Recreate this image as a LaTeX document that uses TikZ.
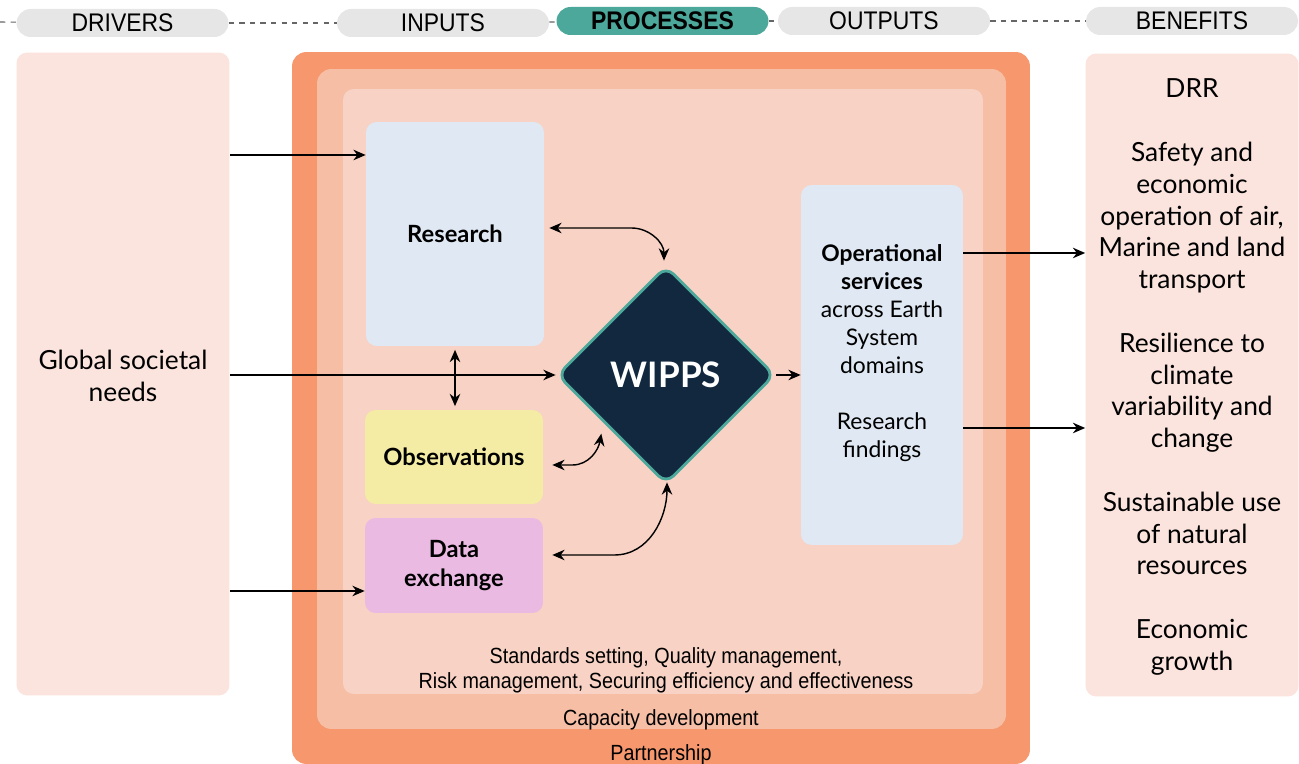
\documentclass[tikz,border=0pt]{standalone}
\usepackage{fontspec}
\setmainfont{Lato}
\newfontfamily\narrowfont[FakeStretch=0.9]{Liberation Sans}
\usetikzlibrary{shapes.geometric, arrows.meta, positioning}

\definecolor{pillgray}{HTML}{E6E6E6}
\definecolor{wippsteal}{HTML}{4BA89B}
\definecolor{wippsnavy}{HTML}{11283F}
\definecolor{outerorange}{HTML}{F6976D}
\definecolor{midorange}{HTML}{F5BEA5}
\definecolor{innerorange}{HTML}{F8D2C4}
\definecolor{sidepink}{HTML}{FBE4DD}
\definecolor{lightblue}{HTML}{DFE8F3}
\definecolor{obsyellow}{HTML}{F4EBA4}
\definecolor{datapink}{HTML}{EBBAE2}

\tikzstyle{pill} = [rectangle, rounded corners=8pt, fill=pillgray, minimum height=0.56cm, minimum width=4.24cm, inner sep=0pt, font=\narrowfont\fontsize{14.5}{16}\selectfont]
\tikzstyle{side} = [rectangle, rounded corners=6pt, fill=sidepink, minimum width=4.26cm, minimum height=12.86cm, inner sep=0pt]
\tikzstyle{frame} = [rectangle, rounded corners=8pt, inner sep=0pt]
\tikzstyle{inbox} = [rectangle, rounded corners=6pt, minimum width=3.56cm, inner sep=0pt, align=center, font=\bfseries\fontsize{13.5}{16.5}\selectfont]
\tikzstyle{note} = [align=center, inner sep=0pt, font=\narrowfont\fontsize{12.5}{14.2}\selectfont]
\tikzstyle{dashline} = [black!60, dashed, line width=0.6pt]
\tikzstyle{arrow} = [line width=0.8pt, -{Stealth[length=7pt,width=6pt]}]
\tikzstyle{biarrow} = [line width=0.8pt, {Stealth[length=7pt,width=6pt]}-{Stealth[length=7pt,width=6pt]}]

\begin{document}
\begin{tikzpicture}[x=0.02cm, y=0.02cm]

            \useasboundingbox (0,0) rectangle (1299,764);

            % header
            \coordinate (lineStart) at (0,742);
            \node (drivers) [pill] at (122.5,741) {DRIVERS};
            \node (inputs) [pill] at (443,741) {INPUTS};
            \node (processes) [pill, fill=wippsteal, font=\narrowfont\bfseries\fontsize{14.5}{16}\selectfont] at (662.5,743) {PROCESSES};
            \node (outputs) [pill] at (884,743) {OUTPUTS};
            \node (benefits) [pill] at (1192,743) {BENEFITS};
            \draw [dashline] (lineStart) -- (drivers);
            \draw [dashline] (drivers) -- (inputs);
            \draw [dashline] (inputs) -- (processes);
            \draw [dashline] (processes) -- (outputs);
            \draw [dashline] (outputs) -- (benefits);

            % columns
            \node (needs) [side, align=center, font=\fontsize{15}{18.1}\selectfont] at (123,390) {};
            \node (needsText) [align=center, font=\fontsize{15}{18.1}\selectfont] at ([shift={(0,-2)}]needs.center) {Global societal\\needs};
            \node (gains) [side] at (1192,389) {};
            \node (gainsText) [align=center, font=\fontsize{15}{18.1}\selectfont] at ([shift={(0,-2)}]gains.center) {DRR\\[\baselineskip]
                Safety and\\economic\\operation of air,\\Marine and land\\transport\\[\baselineskip]
                Resilience to\\climate\\variability and\\change\\[\baselineskip]
                Sustainable use\\of natural\\resources\\[\baselineskip]
                Economic\\growth};

            % nested frames
            \node (partnership) [frame, fill=outerorange, minimum width=14.76cm, minimum height=14.24cm] at (661,356) {};
            \node (capacity) [frame, fill=midorange, minimum width=13.78cm, minimum height=13.2cm] at (661.5,365) {};
            \node (standards) [frame, fill=innerorange, rounded corners=6pt, minimum width=12.8cm, minimum height=12.1cm] at (663,372.5) {};
            \node (partnershipText) [note] at (661,9) {Partnership};
            \node (capacityText) [note] at (661,44) {Capacity development};
            \node (standardsText) [note] at (666,93.5) {Standards setting, Quality management,\\Risk management, Securing efficiency and effectiveness};

            % inputs and WIPPS
            \node (research) [inbox, fill=lightblue, minimum height=4.48cm] at (455,530) {Research};
            \node (obs) [inbox, fill=obsyellow, minimum height=1.88cm] at (454,307) {Observations};
            \node (data) [inbox, fill=datapink, minimum height=1.9cm] at (454,198.5) {Data\\exchange};
            \node (wipps) [diamond, fill=wippsnavy, draw=wippsteal, line width=1.6pt, rounded corners=6pt, minimum width=4.36cm, minimum height=4.36cm, inner sep=0pt, text=white, font=\bfseries\fontsize{20}{24}\selectfont] at (666,389) {WIPPS};
            \node (ops) [inbox, fill=lightblue, minimum width=3.24cm, minimum height=7.2cm] at (882,399) {};
            \node (opsText) [align=center, font=\fontsize{13}{16}\selectfont] at ([shift={(0,12)}]ops.center) {\textbf{Operational}\\\textbf{services}\\across Earth\\System\\domains\\[\baselineskip]Research\\findings};

            % connectors
            \coordinate (rowTop) at (0,609);
            \coordinate (rowBottom) at (0,173);
            \coordinate (rowOpsA) at (0,511);
            \coordinate (rowOpsB) at (0,336);
            \draw [arrow] (needs.east |- rowTop) -- (research.west |- rowTop);
            \draw [arrow] (needs.east |- wipps) -- (wipps.west);
            \draw [arrow] (needs.east |- rowBottom) -- (data.west |- rowBottom);
            \draw [biarrow, shorten <=2pt, shorten >=2pt] (research.south) -- (research.south |- obs.north);
            \draw [biarrow] ([shift={(5,6)}]research.east) -- ++(82,0) to[out=0, in=90] ([shift={(-2,4)}]wipps.north);
            \draw [biarrow] ([shift={(9,-8)}]obs.east) -- ++(20,0) to[out=0, in=-100] ([shift={(-9.5,-3.5)}]wipps.south west);
            \draw [biarrow] ([shift={(9,10.5)}]data.east) -- ++(62,0) to[out=0, in=-90] ([shift={(1,3)}]wipps.south);
            \draw [arrow] (wipps.east) -- (ops.west |- wipps);
            \draw [arrow] (ops.east |- rowOpsA) -- (gains.west |- rowOpsA);
            \draw [arrow] (ops.east |- rowOpsB) -- (gains.west |- rowOpsB);

        \end{tikzpicture}
\end{document}
